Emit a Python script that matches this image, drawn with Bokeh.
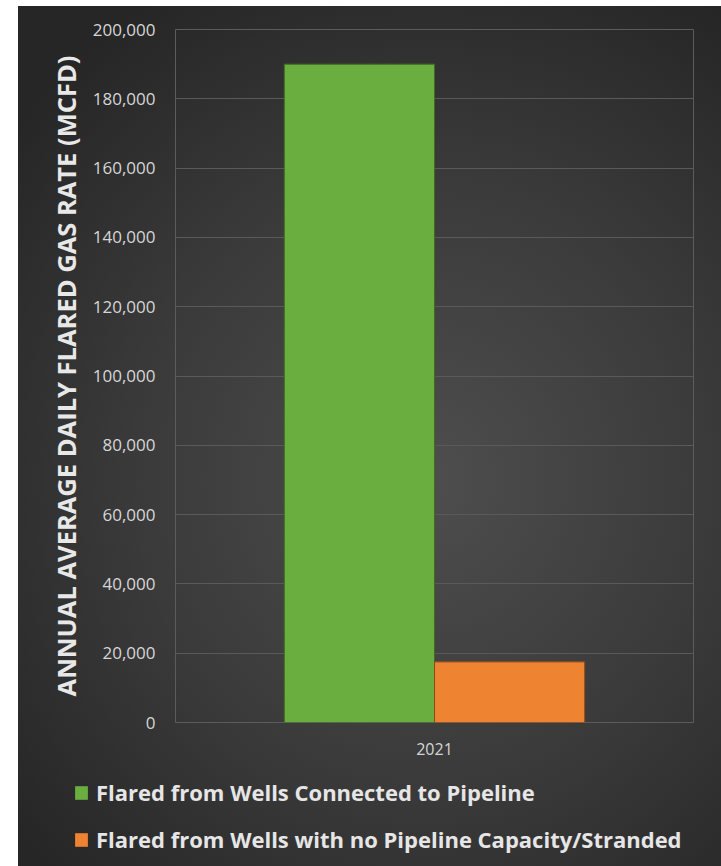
from bokeh.plotting import figure
from bokeh.layouts import column
from bokeh.models import (ColumnDataSource, FactorRange, Range1d, Legend, LegendItem,
                          NumeralTickFormatter, SingleIntervalTicker)
from bokeh.transform import dodge
from bokeh.embed import file_html
from bokeh.resources import INLINE

# ---- data ----
years = ["2021"]
connected = [190000]
stranded = [17500]
series_names = ["Flared from Wells Connected to Pipeline",
                "Flared from Wells with no Pipeline Capacity/Stranded"]
series_colors = ["#6aae40", "#ee8332"]
y_label = "ANNUAL AVERAGE DAILY FLARED GAS RATE (MCFD)"

src = ColumnDataSource(dict(year=years, connected=connected, stranded=stranded))

p = figure(width=703, height=764, x_range=FactorRange(*years, range_padding=0),
           y_range=Range1d(0, 200000), output_backend="svg", toolbar_location=None,
           min_border_left=157, min_border_right=28, min_border_top=23, min_border_bottom=48)
p.frame_align = False
p.background_fill_color = None
p.border_fill_color = None
p.outline_line_color = "#5c5c5c"
p.outline_line_width = 1

r1 = p.vbar(x=dodge("year", -0.145, range=p.x_range), top="connected", width=0.29,
            source=src, fill_color=series_colors[0], line_color="#3f6a25", line_width=1)
r2 = p.vbar(x=dodge("year", 0.145, range=p.x_range), top="stranded", width=0.29,
            source=src, fill_color=series_colors[1], line_color="#8a4a1c", line_width=1)

p.xgrid.grid_line_color = None
p.ygrid.grid_line_color = "#5a5a5a"
p.ygrid.grid_line_width = 1

p.yaxis.ticker = SingleIntervalTicker(interval=20000)
p.yaxis.formatter = NumeralTickFormatter(format="0,0")
p.yaxis.axis_label = y_label
p.yaxis.axis_label_text_font = "Open Sans"
p.yaxis.axis_label_text_font_style = "bold"
p.yaxis.axis_label_text_font_size = "25.5px"
p.yaxis.axis_label_text_color = "#e8e8e8"
p.yaxis.axis_label_standoff = 7

for ax in (p.xaxis[0], p.yaxis[0]):
    ax.axis_line_color = None
    ax.major_tick_line_color = None
    ax.minor_tick_line_color = None
    ax.major_label_text_font = "Open Sans"
    ax.major_label_text_color = "#d6d6d6"
p.yaxis.major_label_text_font_size = "17px"
p.xaxis.major_label_text_font_size = "16px"
p.yaxis.major_label_standoff = 14
p.xaxis.major_label_standoff = 14

# legend panel below the chart (its own frame, not aligned to the chart's frame)
p2 = figure(width=703, height=96, x_range=Range1d(0, 1), y_range=Range1d(0, 1),
            output_backend="svg", toolbar_location=None, min_border=0,
            x_axis_location=None, y_axis_location=None)
p2.frame_align = False
p2.grid.grid_line_color = None
p2.outline_line_color = None
p2.background_fill_color = None
p2.border_fill_color = None
nan = float("nan")
leg_src = ColumnDataSource(dict(x=[nan, nan], top=[nan, nan], color=series_colors))
lr = p2.vbar(x="x", top="top", width=0.1, source=leg_src, fill_color="color", line_color=None)

legend = Legend(items=[LegendItem(label=series_names[0], renderers=[lr], index=0),
                       LegendItem(label=series_names[1], renderers=[lr], index=1)],
                location=(55, 12), orientation="vertical",
                background_fill_color=None, border_line_color=None,
                padding=0, margin=0, spacing=17, glyph_width=16, glyph_height=17,
                label_standoff=7, label_text_font="Open Sans", label_text_font_style="bold",
                label_text_font_size="22px", label_text_color="#e6e6e6")
p2.add_layout(legend, "center")

layout = column(p, p2, spacing=0)
layout.margin = (6, 0, 0, 18)
layout.styles = {"background": "radial-gradient(ellipse 75% 65% at 58% 55%, #4e4e4e 0%, #3a3a3a 55%, #262626 100%)"}

open("out.html", "w").write(file_html(layout, INLINE))
